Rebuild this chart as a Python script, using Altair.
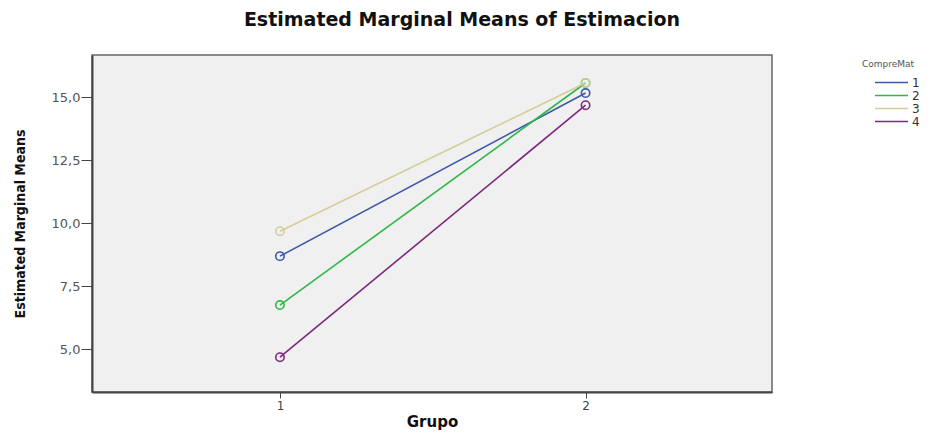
import altair as alt
import pandas as pd

grupos = [1, 2]
series = ["1", "2", "3", "4"]
means_g1 = [8.69, 6.75, 9.68, 4.68]
means_g2 = [15.16, 15.56, 15.56, 14.68]
colors = ["#3E58AC", "#2EB848", "#D3CE97", "#7C287D"]

rows = []
for s, a, b in zip(series, means_g1, means_g2):
    rows.append({"Grupo": grupos[0], "CompreMat": s, "Mean": a})
    rows.append({"Grupo": grupos[1], "CompreMat": s, "Mean": b})
df = pd.DataFrame(rows)

font = "DejaVu Sans, Liberation Sans, sans-serif"
narrow = "DejaVu Sans Condensed, Liberation Sans Narrow, sans-serif"

x = alt.X("Grupo:Q", scale=alt.Scale(domain=[0.385, 2.61], nice=False, zero=False),
          axis=alt.Axis(values=[1, 2], format="d", title="Grupo", grid=False,
                        tickSize=6, tickColor="#444", domainColor="#444", domainWidth=2,
                        labelColor="#444", labelFontSize=12, labelFont=font, labelPadding=2,
                        titleFont=font, titleFontSize=15, titleFontWeight="bold",
                        titleColor="#111", titlePadding=3))
y = alt.Y("Mean:Q", scale=alt.Scale(domain=[3.3, 16.67], nice=False, zero=False),
          axis=alt.Axis(values=[5, 7.5, 10, 12.5, 15],
                        labelExpr="replace(format(datum.value, '.1f'), '.', ',')",
                        title="Estimated Marginal Means", grid=False,
                        tickSize=11, tickColor="#444", domainColor="#444", domainWidth=2,
                        labelColor="#555", labelFontSize=13, labelFont=font, labelPadding=1,
                        titleFont=narrow, titleFontSize=14, titleFontWeight="bold",
                        titleColor="#111", titlePadding=24))
color = alt.Color("CompreMat:N", scale=alt.Scale(domain=series, range=colors),
                  legend=alt.Legend(title="CompreMat", orient="none", legendX=770, legendY=5,
                                    symbolType="M-5,0H1", symbolSize=121, symbolStrokeWidth=1.5,
                                    symbolOffset=34, labelOffset=3, padding=0,
                                    titleFontSize=9, titleFontWeight="normal", titleColor="#555",
                                    titleFont=font, labelFont=font, labelFontSize=12,
                                    labelColor="#333", rowPadding=-2, titlePadding=7))

lines = alt.Chart(df).mark_line(strokeWidth=1.6).encode(x=x, y=y, color=color, detail="CompreMat:N")
points = alt.Chart(df).mark_point(filled=False, size=70, strokeWidth=1.6, opacity=1).encode(
    x=x, y=y, color=alt.Color("CompreMat:N", scale=alt.Scale(domain=series, range=colors), legend=None))

chart = (lines + points).properties(
    width=680, height=337,
    title=alt.Title("Estimated Marginal Means of Estimacion", font=font, fontSize=19,
                    fontWeight="bold", color="#111", anchor="middle", dx=30, offset=25),
    autosize=alt.AutoSizeParams(type="none"),
    padding={"left": 84, "top": 47, "right": 150, "bottom": 38},
).configure(background="white").configure_view(fill="#F0F0F0", stroke="#666", strokeWidth=1.5)

chart.save("out.html", embed_options={"renderer": "svg", "actions": False})
